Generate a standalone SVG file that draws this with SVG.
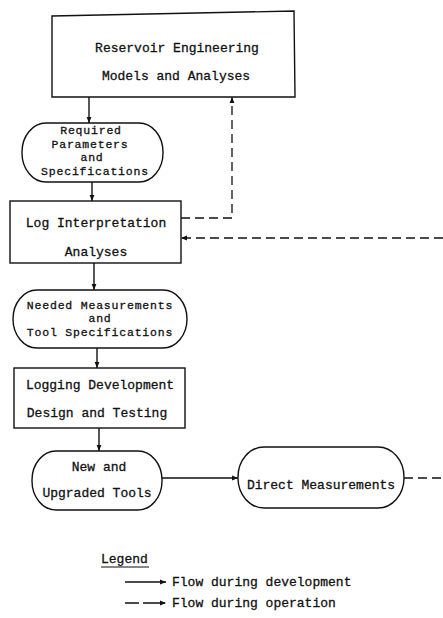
<svg xmlns="http://www.w3.org/2000/svg" width="443" height="618" viewBox="0 0 443 618">
  <defs>
    <marker id="ah" viewBox="0 0 10 10" refX="10" refY="5" markerWidth="7" markerHeight="6" orient="auto" markerUnits="userSpaceOnUse">
      <path d="M0,1 L10,5 L0,9 Z" fill="#111"/>
    </marker>
    <style>
      .box { fill: #fff; stroke: #111; stroke-width: 1.4; }
      .lbl { font-family: "Liberation Mono", "DejaVu Sans Mono", monospace; font-size: 13px; fill: #111; stroke: #111; stroke-width: 0.3; text-anchor: middle; }
      .tight { font-size: 11.5px; letter-spacing: 0.8px; }
      .leg { font-family: "Liberation Mono", "DejaVu Sans Mono", monospace; font-size: 13px; fill: #111; stroke: #111; stroke-width: 0.3; }
      .solid { fill: none; stroke: #111; stroke-width: 1.4; }
      .dash { fill: none; stroke: #111; stroke-width: 1.3; stroke-dasharray: 9 5; }
    </style>
  </defs>
  <rect width="443" height="618" fill="#fff"/>

  <g id="connectors">
    <line class="solid" x1="89" y1="97" x2="89" y2="123" marker-end="url(#ah)"/>
    <line class="solid" x1="92" y1="182" x2="92" y2="201" marker-end="url(#ah)"/>
    <line class="solid" x1="94" y1="263" x2="94" y2="290" marker-end="url(#ah)"/>
    <line class="solid" x1="97" y1="348" x2="97" y2="368" marker-end="url(#ah)"/>
    <line class="solid" x1="99" y1="428" x2="99" y2="451" marker-end="url(#ah)"/>
    <line class="solid" x1="162" y1="478" x2="238" y2="478" marker-end="url(#ah)"/>
    <polyline class="dash" points="181,218 232,218 232,97" marker-end="url(#ah)"/>
    <line class="dash" x1="443" y1="238" x2="181" y2="238" marker-end="url(#ah)"/>
    <line class="dash" x1="404" y1="478" x2="443" y2="478"/>
  </g>

  <g id="reservoir">
    <path class="box" d="M52,16 L294,11 L295,97 L52,97 Z"/>
    <text class="lbl" x="177" y="52">Reservoir Engineering</text>
    <text class="lbl" x="176" y="80">Models and Analyses</text>
  </g>

  <g id="parameters">
    <rect class="box" x="22" y="123" width="141" height="59" rx="24" ry="29"/>
    <text class="lbl tight" x="91" y="134">Required</text>
    <text class="lbl tight" x="90" y="147.5">Parameters</text>
    <text class="lbl tight" x="92" y="161">and</text>
    <text class="lbl tight" x="95" y="174.5">Specifications</text>
  </g>

  <g id="interpretation">
    <rect class="box" x="10" y="201" width="171" height="62"/>
    <text class="lbl" x="96" y="227">Log Interpretation</text>
    <text class="lbl" x="96" y="256">Analyses</text>
  </g>

  <g id="measurements">
    <rect class="box" x="13" y="290" width="174" height="58" rx="24" ry="29"/>
    <text class="lbl tight" x="100" y="308.5">Needed Measurements</text>
    <text class="lbl tight" x="100" y="322">and</text>
    <text class="lbl tight" x="100" y="335.5">Tool Specifications</text>
  </g>

  <g id="development">
    <rect class="box" x="14" y="368" width="171" height="60"/>
    <text class="lbl" x="100" y="389">Logging Development</text>
    <text class="lbl" x="97" y="417">Design and Testing</text>
  </g>

  <g id="tools">
    <rect class="box" x="32" y="451" width="130" height="59" rx="24" ry="29"/>
    <text class="lbl" x="99" y="471">New and</text>
    <text class="lbl" x="97" y="497">Upgraded Tools</text>
  </g>

  <g id="direct">
    <rect class="box" x="238" y="447" width="166" height="61" rx="26" ry="30"/>
    <text class="lbl" x="321" y="489">Direct Measurements</text>
  </g>

  <g id="legend">
    <text class="leg" x="101" y="563">Legend</text>
    <line x1="101" y1="567" x2="149" y2="567" stroke="#111" stroke-width="1"/>
    <line class="solid" x1="125" y1="582" x2="166" y2="582" marker-end="url(#ah)"/>
    <text class="leg" x="172" y="586">Flow during development</text>
    <line x1="125" y1="603" x2="166" y2="603" class="solid" stroke-dasharray="14 4 8 0" marker-end="url(#ah)"/>
    <text class="leg" x="172" y="607">Flow during operation</text>
  </g>
</svg>
